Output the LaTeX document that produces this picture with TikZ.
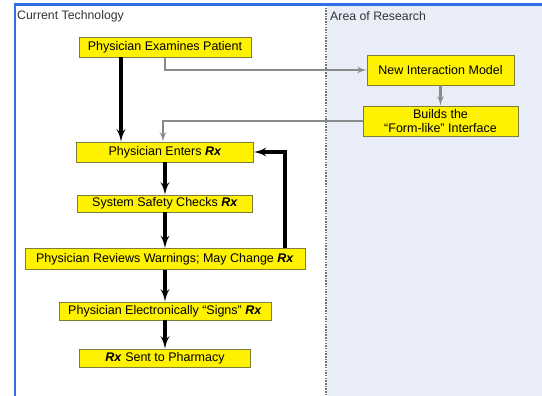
\documentclass[tikz,border=0pt]{standalone}
\usepackage{xcolor}
\usepackage{fontspec}
\setmainfont{Liberation Sans}
\usepackage{tikz}
\usetikzlibrary{shapes,arrows,positioning,fit,backgrounds}

\definecolor{laneblue}{HTML}{E9EDF7}
\definecolor{framblue}{HTML}{2F6FE4}
\definecolor{boxedge}{HTML}{7E7C3A}
\definecolor{flowgray}{HTML}{8A8A8A}
\newcommand{\rx}{\textbf{\textit{Rx}}}

\begin{document}
\begin{tikzpicture}[
    x=1pt, y=-1pt,
    node distance=50pt,
    font=\fontsize{12.5}{13.5}\selectfont,
    block/.style={
        rectangle,
        draw=boxedge,
        fill=yellow,
        line width=0.9pt,
        align=center,
        inner sep=1pt
    },
    line/.style={
        draw, -latex', line width=3.2pt
    },
    grayline/.style={
        draw=flowgray, -latex', line width=2.2pt
    }
]
    \useasboundingbox (0,0) rectangle (542,396);

    % Lanes
    \fill[laneblue] (327,5) rectangle (542,396);
    \draw[gray!90!black, dashed, dash pattern=on 1.5pt off 1.2pt, line width=1.2pt] (326,5) -- (326,396);
    \draw[framblue, line width=2.4pt] (15,396) -- (15,4.5) -- (542,4.5);
    \node [anchor=west, inner sep=0pt, text=black!80, font=\fontsize{12.3}{13}\selectfont] (lanecur) at (17,16.5) {Current Technology};
    \node [anchor=west, inner sep=0pt, text=black!80, font=\fontsize{12.3}{13}\selectfont] (laneres) at (330,16.5) {Area of Research};

    % Nodes
    \node [block, minimum width=172pt, minimum height=20pt] (exam) at (165,47) {Physician Examines Patient};
    \node [block, minimum width=177pt, minimum height=20pt, below of=exam, node distance=105pt] (enters) {Physician Enters \rx};
    \node [block, minimum width=175pt, minimum height=17pt, below of=enters, node distance=51.5pt] (safety) {System Safety Checks \rx};
    \node [block, minimum width=280pt, minimum height=21pt, below of=safety, node distance=55.5pt] (reviews) {Physician Reviews Warnings; May Change \rx};
    \node [block, minimum width=212pt, minimum height=18pt, below of=reviews, node distance=52pt] (signs) {Physician Electronically ``Signs'' \rx};
    \node [block, minimum width=171pt, minimum height=18pt, below of=signs, node distance=47pt] (sent) {\rx{} Sent to Pharmacy};
    \node [block, minimum width=147pt, minimum height=30pt] (model) at (440.5,70) {New Interaction Model};
    \node [block, minimum width=155pt, minimum height=30pt, below of=model, node distance=51pt] (builds) {Builds the\\``Form-like'' Interface};

    % Edges
    \path [line] ([xshift=-44pt]exam.south) -- ([xshift=-44pt]exam.south |- enters.north);
    \path [grayline] (exam.south) |- (model.west);
    \path [grayline] (model) -- (builds);
    \path [grayline] (builds.west) -| ([xshift=-2pt]enters.north);
    \path [line] (enters) -- (safety);
    \path [line] (safety) -- (reviews);
    \path [line] ([xshift=120pt]reviews.north) |- (enters.east);
    \path [line] (reviews) -- (signs);
    \path [line] (signs) -- (sent);

\end{tikzpicture}
\end{document}
